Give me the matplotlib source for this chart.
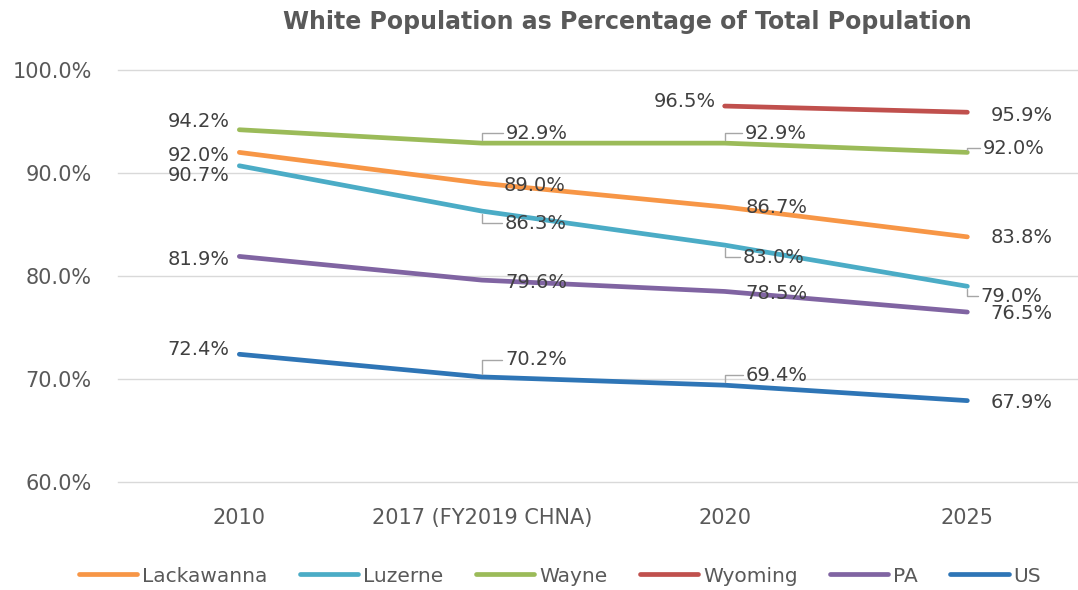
import numpy as np
import matplotlib
matplotlib.use("Agg")
import matplotlib.pyplot as plt

# categories and series values (percent)
years = ["2010", "2017 (FY2019 CHNA)", "2020", "2025"]
lackawanna = [92.0, 89.0, 86.7, 83.8]
luzerne = [90.7, 86.3, 83.0, 79.0]
wayne = [94.2, 92.9, 92.9, 92.0]
wyoming = [np.nan, np.nan, 96.5, 95.9]
pa = [81.9, 79.6, 78.5, 76.5]
us = [72.4, 70.2, 69.4, 67.9]

series = [
    ("Lackawanna", lackawanna, "#F79646"),
    ("Luzerne", luzerne, "#4BACC6"),
    ("Wayne", wayne, "#9BBB59"),
    ("Wyoming", wyoming, "#C0504D"),
    ("PA", pa, "#8064A2"),
    ("US", us, "#2E75B6"),
]

# label placement per point: (dx px, dy px, leader line)
label_pos = {
    "Lackawanna": [(-10, -3, False), (22, -2, False), (21, -1, False), (23, -1, False)],
    "Luzerne": [(-10, -10, False), (23, -12, True), (18, -12, True), (13, -10, True)],
    "Wayne": [(-10, 8, False), (24, 10, True), (20, 10, True), (15, 4, True)],
    "Wyoming": [None, None, (-9, 5, False), (23, -3, False)],
    "PA": [(-10, -3, False), (23, -2, False), (21, -2, False), (23, -1, False)],
    "US": [(-10, 5, False), (23, 17, True), (21, 10, True), (23, -2, False)],
}

fig = plt.figure(figsize=(10.78, 5.90), dpi=100)
ax = fig.add_axes([118 / 1078, 1 - 482 / 590, 1 - 118 / 1078, 412 / 590])

x = np.arange(len(years))
for name, vals, color in series:
    ax.plot(x, vals, color=color, lw=3.4, solid_capstyle="round",
            solid_joinstyle="round", label=name, zorder=3)
    for i, v in enumerate(vals):
        pos = label_pos[name][i]
        if pos is None or np.isnan(v):
            continue
        dx, dy, leader = pos
        ha = "right" if dx < 0 else "left"
        kw = {}
        if leader:
            kw["arrowprops"] = dict(arrowstyle="-", color="#a6a6a6", lw=1,
                                    shrinkA=0, shrinkB=2, relpos=(0, 0.5),
                                    connectionstyle="angle,angleA=0,angleB=90,rad=0")
        ax.annotate(f"{v:.1f}%", (i, v), xytext=(dx, dy),
                    textcoords="offset pixels", ha=ha, va="center",
                    fontsize=14, color="#404040", zorder=4, **kw)

ax.set_xlim(-0.5, 3.456)
ax.set_ylim(60, 100)
ax.set_yticks([60, 70, 80, 90, 100])
ax.set_yticklabels([f"{t:.1f}%" for t in [60, 70, 80, 90, 100]])
ax.set_xticks(x)
ax.set_xticklabels(years)
ax.tick_params(axis="both", length=0, labelsize=15, colors="#595959")
ax.tick_params(axis="y", pad=19)
ax.tick_params(axis="x", pad=19)
ax.grid(axis="y", color="#d9d9d9", lw=1)
for gl in ax.get_ygridlines():
    gl.set_clip_on(False)
ax.set_axisbelow(True)
for s in ax.spines.values():
    s.set_visible(False)

fig.text(627 / 1078, 1 - 22 / 590, "White Population as Percentage of Total Population",
         ha="center", va="center", fontsize=17, fontweight="bold", color="#595959")

fig.legend(loc="center", bbox_to_anchor=(560 / 1078, 1 - 576 / 590), ncol=6,
           frameon=False, fontsize=14.5, handlelength=2.9, handletextpad=0.25,
           columnspacing=1.6, labelcolor="#595959")

fig.savefig("out.png", dpi=100)
